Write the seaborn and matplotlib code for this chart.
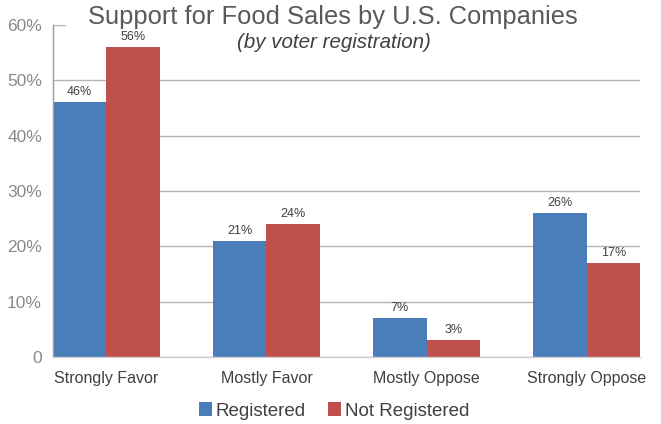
import matplotlib
matplotlib.use("Agg")
import matplotlib.pyplot as plt
import seaborn as sns
import pandas as pd
from matplotlib.patches import Patch, Rectangle

categories = ["Strongly Favor", "Mostly Favor", "Mostly Oppose", "Strongly Oppose"]
registered = [46, 21, 7, 26]
not_registered = [56, 24, 3, 17]
series_names = ["Registered", "Not Registered"]
y_ticks = [0, 10, 20, 30, 40, 50, 60]
y_tick_labels = ["0", "10%", "20%", "30%", "40%", "50%", "60%"]

df = pd.DataFrame({
    "category": categories * 2,
    "value": registered + not_registered,
    "series": [series_names[0]] * 4 + [series_names[1]] * 4,
})

colors = ["#4A7EBB", "#C0504D"]

sns.set_theme(style="white")
plt.rcParams["font.family"] = ["Liberation Sans", "DejaVu Sans"]

W, H = 661, 424
fig = plt.figure(figsize=(W / 100, H / 100), dpi=100)
ax = fig.add_axes([53 / W, 1 - 357 / H, 587 / W, 332 / H])

sns.barplot(data=df, x="category", y="value", hue="series", order=categories,
            hue_order=series_names, palette=colors, width=0.667, saturation=1,
            linewidth=0, ax=ax, legend=False)

ax.set_xlim(-0.3335, 3.3335)
ax.set_ylim(0, 60)
ax.set_yticks(y_ticks)
ax.set_yticklabels(y_tick_labels, fontsize=12.5, color="#8a8a8a")
ax.yaxis.grid(True, color="#b5b5b5", linewidth=1)
ax.set_axisbelow(True)
ax.tick_params(axis="y", length=0, pad=8)
ax.tick_params(axis="x", length=0, pad=10, labelsize=11.5, labelcolor="#404040")
ax.set_xlabel("")
ax.set_ylabel("")
for side in ["top", "right"]:
    ax.spines[side].set_visible(False)
ax.spines["left"].set_color("#9a9a9a")
ax.spines["left"].set_linewidth(1)
ax.spines["bottom"].set_color("#d0d0d0")
ax.spines["bottom"].set_linewidth(1)

for container in ax.containers:
    ax.bar_label(container, labels=[f"{v:.0f}%" for v in container.datavalues],
                 padding=3, fontsize=9, color="#404040")

# white band behind the title hides the top gridline past its first stub
fig.patches.append(Rectangle((66 / W, 1 - 31 / H), 1 - 66 / W, 26 / H,
                             transform=fig.transFigure, facecolor="white",
                             edgecolor="none", zorder=2))
fig.text(333 / W, 1 - 17 / H, "Support for Food Sales by U.S. Companies",
         ha="center", va="center", fontsize=18.4, color="#595959", zorder=3)
fig.text(334 / W, 1 - 43 / H, "(by voter registration)",
         ha="center", va="center", fontsize=14.8, style="italic", color="#404040",
         zorder=3)

handles = [Patch(facecolor=c, edgecolor="none") for c in colors]
fig.legend(handles, series_names, loc="center", bbox_to_anchor=(334 / W, 1 - 411 / H),
           ncol=2, frameon=False, fontsize=13.5, handlelength=0.7, handleheight=0.7,
           handletextpad=0.2, columnspacing=1.2, labelcolor="#404040")

fig.savefig("out.png", dpi=100)
